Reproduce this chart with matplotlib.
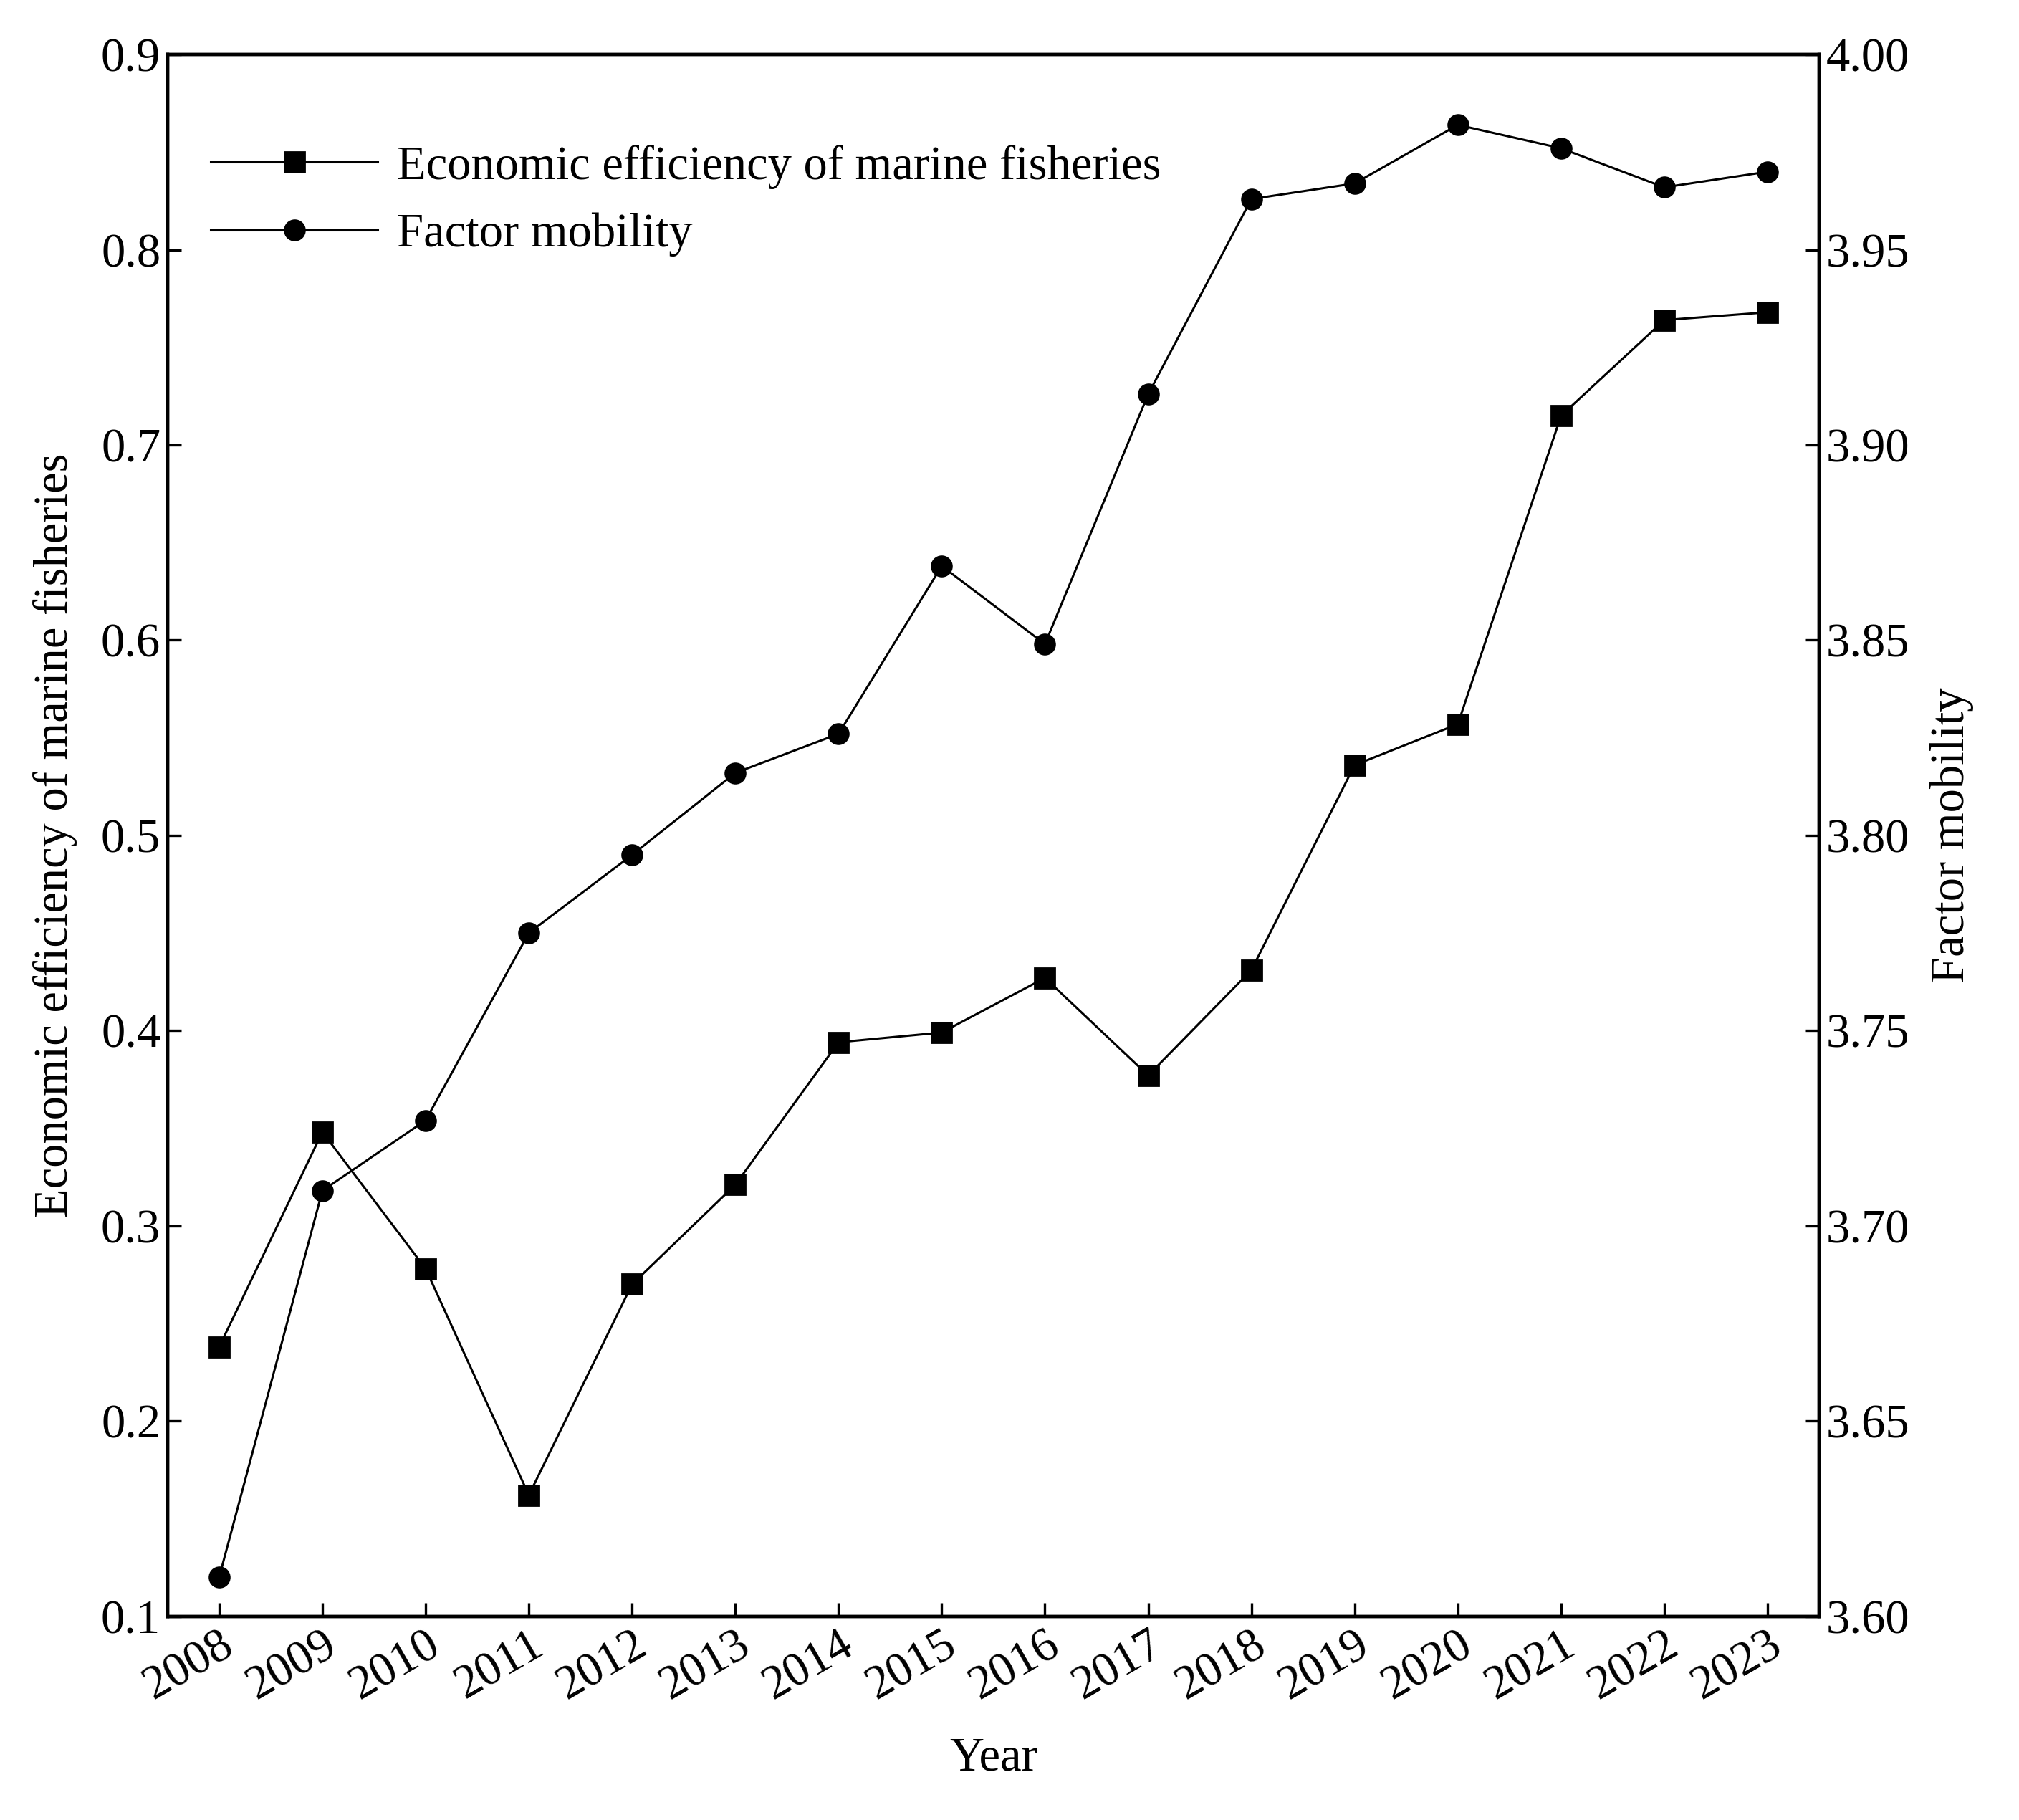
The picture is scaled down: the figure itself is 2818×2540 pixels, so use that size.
import matplotlib
matplotlib.use("Agg")
import matplotlib.pyplot as plt

years = [2008,2009,2010,2011,2012,2013,2014,2015,2016,2017,2018,2019,2020,2021,2022,2023]
efficiency = [0.238,0.348,0.278,0.162,0.270,0.321,0.394,0.399,0.427,0.377,0.431,0.536,0.557,0.715,0.764,0.768]
mobility = [3.610,3.709,3.727,3.775,3.795,3.816,3.826,3.869,3.849,3.913,3.963,3.967,3.982,3.976,3.966,3.970]

plt.rcParams['font.family'] = ['Liberation Serif', 'DejaVu Serif']
fs = 24
fig = plt.figure(figsize=(14.09, 12.7), dpi=200)
ax = fig.add_axes([0.083, 0.112, 0.818, 0.858])
ax2 = ax.twinx()

l1, = ax.plot(years, efficiency, color='black', lw=1.1, marker='s', ms=10, label='Economic efficiency of marine fisheries')
l2, = ax2.plot(years, mobility, color='black', lw=1.1, marker='o', ms=10, label='Factor mobility')

ax.set_xlim(2007.5, 2023.5)
ax.set_ylim(0.1, 0.9)
ax2.set_ylim(3.60, 4.00)
ax.set_xticks(years)
ax.set_xticklabels([str(y) for y in years], rotation=30, ha='right', rotation_mode='anchor')
ax.set_yticks([0.1,0.2,0.3,0.4,0.5,0.6,0.7,0.8,0.9])
ax.set_yticklabels(['0.1','0.2','0.3','0.4','0.5','0.6','0.7','0.8','0.9'])
ax2.set_yticks([3.60,3.65,3.70,3.75,3.80,3.85,3.90,3.95,4.00])
ax2.set_yticklabels(['3.60','3.65','3.70','3.75','3.80','3.85','3.90','3.95','4.00'])

ax.tick_params(axis='both', direction='in', labelsize=fs, length=7, width=1.2)
ax2.tick_params(axis='y', direction='in', labelsize=fs, length=7, width=1.2)
for a in (ax, ax2):
    for s in a.spines.values():
        s.set_linewidth(1.6)

ax.set_xlabel('Year', fontsize=fs, labelpad=14)
ax.set_ylabel('Economic efficiency of marine fisheries', fontsize=fs, labelpad=12)
ax2.set_ylabel('Factor mobility', fontsize=fs, labelpad=10)

ax.legend(handles=[l1, l2], loc='upper left', bbox_to_anchor=(0.0, 0.97), frameon=False,
          fontsize=fs, handlelength=3.5, handletextpad=0.4)

fig.savefig('out.png', dpi=200)
